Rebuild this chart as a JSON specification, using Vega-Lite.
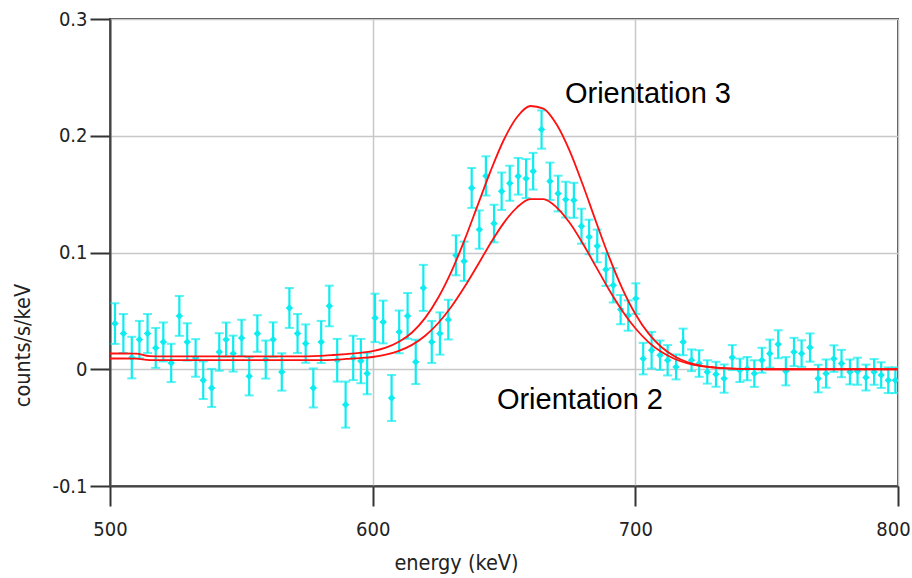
{
  "$schema": "https://vega.github.io/schema/vega-lite/v6.json",
  "width": 788,
  "height": 467,
  "autosize": {"type": "none"},
  "padding": {"left": 110, "top": 19, "right": 14, "bottom": 92},
  "background": "white",
  "config": {
    "view": {"stroke": "#444444", "strokeWidth": 2},
    "axis": {
      "labelFont": "DejaVu Sans Condensed, DejaVu Sans",
      "titleFont": "DejaVu Sans Condensed, DejaVu Sans",
      "labelFontSize": 20,
      "titleFontSize": 21.5,
      "titleFontWeight": "normal",
      "labelColor": "#222222",
      "titleColor": "#222222",
      "labelFlush": false,
      "domainColor": "#444444",
      "domainWidth": 2,
      "tickColor": "#333333",
      "tickWidth": 2,
      "tickSize": 20,
      "gridColor": "#c8c8c8",
      "gridWidth": 1.5
    }
  },
  "datasets": {
    "spectrum": [
      {"energy": 501.9, "rate": 0.0391, "err": 0.0174},
      {"energy": 505.1, "rate": 0.0306, "err": 0.0167},
      {"energy": 508.3, "rate": 0.0100, "err": 0.0178},
      {"energy": 511.2, "rate": 0.0254, "err": 0.0160},
      {"energy": 514.3, "rate": 0.0306, "err": 0.0167},
      {"energy": 517.4, "rate": 0.0183, "err": 0.0171},
      {"energy": 520.3, "rate": 0.0234, "err": 0.0167},
      {"energy": 523.3, "rate": 0.0054, "err": 0.0164},
      {"energy": 526.4, "rate": 0.0457, "err": 0.0171},
      {"energy": 529.4, "rate": 0.0234, "err": 0.0160},
      {"energy": 532.6, "rate": 0.0097, "err": 0.0161},
      {"energy": 535.5, "rate": -0.0094, "err": 0.0161},
      {"energy": 538.7, "rate": -0.0160, "err": 0.0163},
      {"energy": 541.6, "rate": 0.0148, "err": 0.0161},
      {"energy": 544.2, "rate": 0.0254, "err": 0.0146},
      {"energy": 546.9, "rate": 0.0134, "err": 0.0154},
      {"energy": 550.1, "rate": 0.0268, "err": 0.0156},
      {"energy": 553.0, "rate": -0.0060, "err": 0.0164},
      {"energy": 556.1, "rate": 0.0306, "err": 0.0157},
      {"energy": 559.3, "rate": 0.0083, "err": 0.0163},
      {"energy": 562.1, "rate": 0.0254, "err": 0.0148},
      {"energy": 565.4, "rate": -0.0023, "err": 0.0160},
      {"energy": 568.3, "rate": 0.0525, "err": 0.0171},
      {"energy": 571.4, "rate": 0.0306, "err": 0.0167},
      {"energy": 574.5, "rate": 0.0220, "err": 0.0164},
      {"energy": 577.4, "rate": -0.0160, "err": 0.0167},
      {"energy": 580.4, "rate": 0.0234, "err": 0.0180},
      {"energy": 583.5, "rate": 0.0542, "err": 0.0174},
      {"energy": 586.5, "rate": 0.0077, "err": 0.0183},
      {"energy": 589.7, "rate": -0.0303, "err": 0.0197},
      {"energy": 592.6, "rate": 0.0097, "err": 0.0190},
      {"energy": 595.5, "rate": 0.0070, "err": 0.0190},
      {"energy": 597.9, "rate": -0.0037, "err": 0.0177},
      {"energy": 600.9, "rate": 0.0440, "err": 0.0207},
      {"energy": 604.0, "rate": 0.0405, "err": 0.0183},
      {"energy": 607.2, "rate": -0.0246, "err": 0.0197},
      {"energy": 610.1, "rate": 0.0320, "err": 0.0183},
      {"energy": 613.3, "rate": 0.0457, "err": 0.0196},
      {"energy": 616.4, "rate": 0.0063, "err": 0.0190},
      {"energy": 619.3, "rate": 0.0697, "err": 0.0197},
      {"energy": 622.5, "rate": 0.0234, "err": 0.0180},
      {"energy": 625.6, "rate": 0.0306, "err": 0.0181},
      {"energy": 628.8, "rate": 0.0425, "err": 0.0170},
      {"energy": 631.7, "rate": 0.0976, "err": 0.0171},
      {"energy": 634.8, "rate": 0.0925, "err": 0.0168},
      {"energy": 637.7, "rate": 0.1553, "err": 0.0171},
      {"energy": 640.6, "rate": 0.1196, "err": 0.0164},
      {"energy": 643.1, "rate": 0.1656, "err": 0.0168},
      {"energy": 646.2, "rate": 0.1248, "err": 0.0161},
      {"energy": 649.1, "rate": 0.1525, "err": 0.0160},
      {"energy": 652.2, "rate": 0.1593, "err": 0.0150},
      {"energy": 655.4, "rate": 0.1653, "err": 0.0157},
      {"energy": 658.4, "rate": 0.1633, "err": 0.0167},
      {"energy": 661.1, "rate": 0.1696, "err": 0.0157},
      {"energy": 664.3, "rate": 0.2053, "err": 0.0164},
      {"energy": 667.5, "rate": 0.1610, "err": 0.0160},
      {"energy": 670.6, "rate": 0.1505, "err": 0.0153},
      {"energy": 673.5, "rate": 0.1453, "err": 0.0153},
      {"energy": 676.6, "rate": 0.1447, "err": 0.0150},
      {"energy": 679.5, "rate": 0.1225, "err": 0.0150},
      {"energy": 682.4, "rate": 0.1133, "err": 0.0148},
      {"energy": 685.5, "rate": 0.1056, "err": 0.0140},
      {"energy": 688.8, "rate": 0.0854, "err": 0.0140},
      {"energy": 691.6, "rate": 0.0719, "err": 0.0147},
      {"energy": 694.4, "rate": 0.0511, "err": 0.0125},
      {"energy": 697.3, "rate": 0.0460, "err": 0.0130},
      {"energy": 700.2, "rate": 0.0605, "err": 0.0131},
      {"energy": 703.0, "rate": 0.0091, "err": 0.0135},
      {"energy": 706.2, "rate": 0.0163, "err": 0.0157},
      {"energy": 709.4, "rate": 0.0120, "err": 0.0126},
      {"energy": 712.3, "rate": 0.0077, "err": 0.0130},
      {"energy": 715.5, "rate": 0.0020, "err": 0.0107},
      {"energy": 718.2, "rate": 0.0234, "err": 0.0114},
      {"energy": 721.4, "rate": 0.0077, "err": 0.0093},
      {"energy": 724.3, "rate": 0.0049, "err": 0.0114},
      {"energy": 727.4, "rate": -0.0023, "err": 0.0100},
      {"energy": 730.7, "rate": -0.0043, "err": 0.0107},
      {"energy": 733.8, "rate": -0.0080, "err": 0.0121},
      {"energy": 736.9, "rate": 0.0100, "err": 0.0107},
      {"energy": 739.8, "rate": -0.0009, "err": 0.0100},
      {"energy": 742.6, "rate": 0.0005, "err": 0.0100},
      {"energy": 745.3, "rate": -0.0037, "err": 0.0114},
      {"energy": 748.2, "rate": 0.0077, "err": 0.0107},
      {"energy": 751.2, "rate": 0.0134, "err": 0.0120},
      {"energy": 754.4, "rate": 0.0214, "err": 0.0120},
      {"energy": 757.3, "rate": -0.0017, "err": 0.0121},
      {"energy": 760.4, "rate": 0.0148, "err": 0.0121},
      {"energy": 763.3, "rate": 0.0134, "err": 0.0114},
      {"energy": 766.5, "rate": 0.0186, "err": 0.0121},
      {"energy": 769.6, "rate": -0.0080, "err": 0.0118},
      {"energy": 772.6, "rate": -0.0037, "err": 0.0121},
      {"energy": 775.6, "rate": 0.0091, "err": 0.0114},
      {"energy": 778.5, "rate": 0.0049, "err": 0.0117},
      {"energy": 781.7, "rate": -0.0023, "err": 0.0107},
      {"energy": 784.6, "rate": -0.0017, "err": 0.0116},
      {"energy": 787.8, "rate": -0.0071, "err": 0.0111},
      {"energy": 790.9, "rate": -0.0023, "err": 0.0110},
      {"energy": 793.6, "rate": -0.0050, "err": 0.0110},
      {"energy": 796.3, "rate": -0.0094, "err": 0.0110},
      {"energy": 799.0, "rate": -0.0094, "err": 0.0110}
    ],
    "models": [
      {"energy": 500, "rate": 0.0135, "orientation": "Orientation 3"},
      {"energy": 505, "rate": 0.0135, "orientation": "Orientation 3"},
      {"energy": 510, "rate": 0.0133, "orientation": "Orientation 3"},
      {"energy": 515, "rate": 0.0112, "orientation": "Orientation 3"},
      {"energy": 520, "rate": 0.0110, "orientation": "Orientation 3"},
      {"energy": 530, "rate": 0.0110, "orientation": "Orientation 3"},
      {"energy": 540, "rate": 0.0110, "orientation": "Orientation 3"},
      {"energy": 550, "rate": 0.0110, "orientation": "Orientation 3"},
      {"energy": 560, "rate": 0.0110, "orientation": "Orientation 3"},
      {"energy": 570, "rate": 0.0110, "orientation": "Orientation 3"},
      {"energy": 575, "rate": 0.0111, "orientation": "Orientation 3"},
      {"energy": 580, "rate": 0.0115, "orientation": "Orientation 3"},
      {"energy": 585, "rate": 0.0122, "orientation": "Orientation 3"},
      {"energy": 590, "rate": 0.0130, "orientation": "Orientation 3"},
      {"energy": 595, "rate": 0.0140, "orientation": "Orientation 3"},
      {"energy": 600, "rate": 0.0155, "orientation": "Orientation 3"},
      {"energy": 605, "rate": 0.0185, "orientation": "Orientation 3"},
      {"energy": 610, "rate": 0.0235, "orientation": "Orientation 3"},
      {"energy": 615, "rate": 0.0315, "orientation": "Orientation 3"},
      {"energy": 620, "rate": 0.0440, "orientation": "Orientation 3"},
      {"energy": 625, "rate": 0.0614, "orientation": "Orientation 3"},
      {"energy": 630, "rate": 0.0838, "orientation": "Orientation 3"},
      {"energy": 635, "rate": 0.1108, "orientation": "Orientation 3"},
      {"energy": 640, "rate": 0.1406, "orientation": "Orientation 3"},
      {"energy": 645, "rate": 0.1704, "orientation": "Orientation 3"},
      {"energy": 650, "rate": 0.1968, "orientation": "Orientation 3"},
      {"energy": 655, "rate": 0.2161, "orientation": "Orientation 3"},
      {"energy": 660, "rate": 0.2255, "orientation": "Orientation 3"},
      {"energy": 665, "rate": 0.2233, "orientation": "Orientation 3"},
      {"energy": 670, "rate": 0.2098, "orientation": "Orientation 3"},
      {"energy": 675, "rate": 0.1870, "orientation": "Orientation 3"},
      {"energy": 680, "rate": 0.1580, "orientation": "Orientation 3"},
      {"energy": 685, "rate": 0.1266, "orientation": "Orientation 3"},
      {"energy": 690, "rate": 0.0962, "orientation": "Orientation 3"},
      {"energy": 695, "rate": 0.0693, "orientation": "Orientation 3"},
      {"energy": 700, "rate": 0.0473, "orientation": "Orientation 3"},
      {"energy": 705, "rate": 0.0307, "orientation": "Orientation 3"},
      {"energy": 710, "rate": 0.0188, "orientation": "Orientation 3"},
      {"energy": 715, "rate": 0.0110, "orientation": "Orientation 3"},
      {"energy": 720, "rate": 0.0060, "orientation": "Orientation 3"},
      {"energy": 725, "rate": 0.0031, "orientation": "Orientation 3"},
      {"energy": 730, "rate": 0.0016, "orientation": "Orientation 3"},
      {"energy": 735, "rate": 0.0007, "orientation": "Orientation 3"},
      {"energy": 740, "rate": 0.0003, "orientation": "Orientation 3"},
      {"energy": 745, "rate": 0.0001, "orientation": "Orientation 3"},
      {"energy": 750, "rate": 0.0, "orientation": "Orientation 3"},
      {"energy": 800, "rate": 0.0, "orientation": "Orientation 3"},
      {"energy": 500, "rate": 0.0092, "orientation": "Orientation 2"},
      {"energy": 505, "rate": 0.0092, "orientation": "Orientation 2"},
      {"energy": 510, "rate": 0.0091, "orientation": "Orientation 2"},
      {"energy": 515, "rate": 0.0079, "orientation": "Orientation 2"},
      {"energy": 520, "rate": 0.0078, "orientation": "Orientation 2"},
      {"energy": 530, "rate": 0.0078, "orientation": "Orientation 2"},
      {"energy": 540, "rate": 0.0078, "orientation": "Orientation 2"},
      {"energy": 550, "rate": 0.0078, "orientation": "Orientation 2"},
      {"energy": 560, "rate": 0.0078, "orientation": "Orientation 2"},
      {"energy": 570, "rate": 0.0078, "orientation": "Orientation 2"},
      {"energy": 580, "rate": 0.0078, "orientation": "Orientation 2"},
      {"energy": 585, "rate": 0.0080, "orientation": "Orientation 2"},
      {"energy": 590, "rate": 0.0088, "orientation": "Orientation 2"},
      {"energy": 595, "rate": 0.0095, "orientation": "Orientation 2"},
      {"energy": 600, "rate": 0.0105, "orientation": "Orientation 2"},
      {"energy": 605, "rate": 0.0125, "orientation": "Orientation 2"},
      {"energy": 610, "rate": 0.0158, "orientation": "Orientation 2"},
      {"energy": 615, "rate": 0.0209, "orientation": "Orientation 2"},
      {"energy": 620, "rate": 0.0287, "orientation": "Orientation 2"},
      {"energy": 625, "rate": 0.0396, "orientation": "Orientation 2"},
      {"energy": 630, "rate": 0.0537, "orientation": "Orientation 2"},
      {"energy": 635, "rate": 0.0706, "orientation": "Orientation 2"},
      {"energy": 640, "rate": 0.0893, "orientation": "Orientation 2"},
      {"energy": 645, "rate": 0.1084, "orientation": "Orientation 2"},
      {"energy": 650, "rate": 0.1256, "orientation": "Orientation 2"},
      {"energy": 655, "rate": 0.1387, "orientation": "Orientation 2"},
      {"energy": 660, "rate": 0.1458, "orientation": "Orientation 2"},
      {"energy": 665, "rate": 0.1458, "orientation": "Orientation 2"},
      {"energy": 670, "rate": 0.1387, "orientation": "Orientation 2"},
      {"energy": 675, "rate": 0.1254, "orientation": "Orientation 2"},
      {"energy": 680, "rate": 0.1077, "orientation": "Orientation 2"},
      {"energy": 685, "rate": 0.0879, "orientation": "Orientation 2"},
      {"energy": 690, "rate": 0.0681, "orientation": "Orientation 2"},
      {"energy": 695, "rate": 0.0502, "orientation": "Orientation 2"},
      {"energy": 700, "rate": 0.0351, "orientation": "Orientation 2"},
      {"energy": 705, "rate": 0.0233, "orientation": "Orientation 2"},
      {"energy": 710, "rate": 0.0147, "orientation": "Orientation 2"},
      {"energy": 715, "rate": 0.0088, "orientation": "Orientation 2"},
      {"energy": 720, "rate": 0.0050, "orientation": "Orientation 2"},
      {"energy": 725, "rate": 0.0027, "orientation": "Orientation 2"},
      {"energy": 730, "rate": 0.0014, "orientation": "Orientation 2"},
      {"energy": 735, "rate": 0.0007, "orientation": "Orientation 2"},
      {"energy": 740, "rate": 0.0003, "orientation": "Orientation 2"},
      {"energy": 745, "rate": 0.0001, "orientation": "Orientation 2"},
      {"energy": 750, "rate": 0.0, "orientation": "Orientation 2"},
      {"energy": 800, "rate": 0.0, "orientation": "Orientation 2"}
    ],
    "labels": [
      {"energy": 673.2, "rate": 0.2278, "label": "Orientation 3"},
      {"energy": 647.3, "rate": -0.0340, "label": "Orientation 2"}
    ]
  },
  "encoding": {
    "x": {
      "field": "energy",
      "type": "quantitative",
      "scale": {"domain": [500, 800], "nice": false, "zero": false},
      "axis": {
        "title": "energy (keV)",
        "values": [500, 600, 700, 800],
        "labelPadding": 13,
        "labelOffset": {"condition": {"test": "datum.value == 800", "value": -5}, "value": 0},
        "titleX": 346,
        "titleY": 83,
        "titleAlign": "center",
        "titleBaseline": "alphabetic"
      }
    },
    "y": {
      "field": "rate",
      "type": "quantitative",
      "scale": {"domain": [-0.1, 0.3], "nice": false, "zero": false},
      "axis": {
        "title": "counts/s/keV",
        "values": [-0.1, 0, 0.1, 0.2, 0.3],
        "labelExpr": "'' + datum.value",
        "labelPadding": 3,
        "titleAngle": -90,
        "titleX": -81,
        "titleY": 326,
        "titleAlign": "center",
        "titleBaseline": "alphabetic"
      }
    }
  },
  "layer": [
    {
      "data": {"name": "spectrum"},
      "mark": {
        "type": "errorbar",
        "clip": true,
        "color": "#0eecf0",
        "ticks": {"size": 9, "thickness": 2, "color": "#0eecf0"},
        "rule": {"strokeWidth": 2.2, "color": "#0eecf0"}
      },
      "encoding": {
        "yError": {"field": "err"}
      }
    },
    {
      "data": {"name": "spectrum"},
      "mark": {"type": "point", "shape": "diamond", "filled": true, "size": 55, "color": "#0eecf0", "opacity": 1, "clip": true}
    },
    {
      "data": {"name": "models"},
      "mark": {"type": "line", "color": "#ff1010", "strokeWidth": 1.8, "interpolate": "monotone", "clip": true},
      "encoding": {
        "detail": {"field": "orientation", "type": "nominal"}
      }
    },
    {
      "data": {"name": "labels"},
      "mark": {"type": "text", "align": "left", "baseline": "alphabetic", "font": "Liberation Sans", "fontSize": 29, "color": "#000000"},
      "encoding": {
        "text": {"field": "label", "type": "nominal"}
      }
    }
  ]
}
